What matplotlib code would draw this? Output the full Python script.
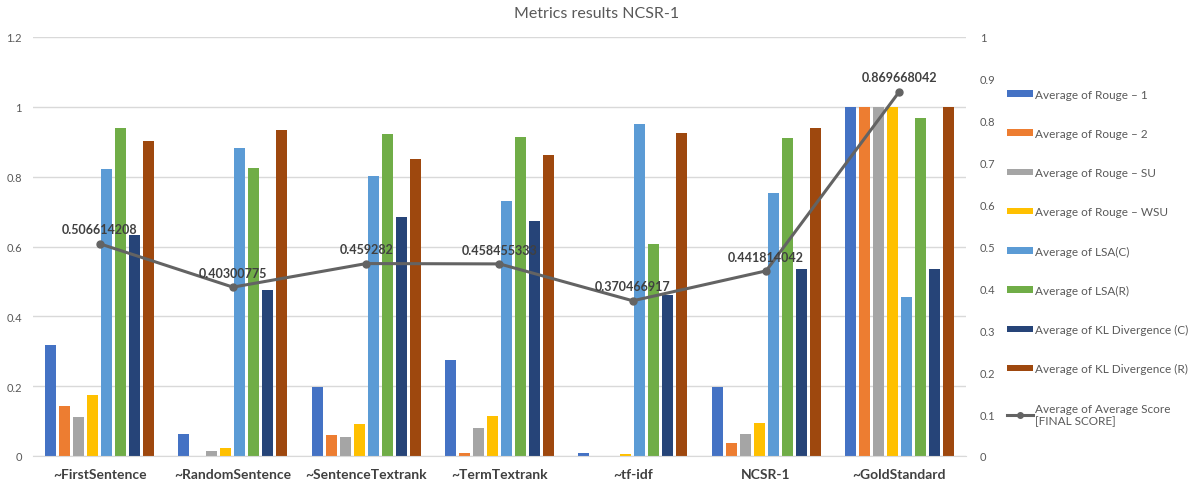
import matplotlib.pyplot as plt
import numpy as np
from matplotlib.lines import Line2D
from matplotlib.patches import Patch

plt.rcParams['font.family'] = ['Lato', 'DejaVu Sans']

# summarizer methods
categories = ['~FirstSentence', '~RandomSentence', '~SentenceTextrank', '~TermTextrank',
              '~tf-idf', 'NCSR-1', '~GoldStandard']

# per-metric averages (left axis)
rouge_1 = [0.317, 0.062, 0.199, 0.276, 0.009, 0.199, 1.0]
rouge_2 = [0.142, 0.0, 0.061, 0.008, 0.0, 0.038, 1.0]
rouge_su = [0.113, 0.014, 0.053, 0.081, 0.0, 0.062, 1.0]
rouge_wsu = [0.175, 0.022, 0.092, 0.115, 0.005, 0.094, 1.0]
lsa_c = [0.821, 0.883, 0.803, 0.730, 0.952, 0.752, 0.454]
lsa_r = [0.938, 0.824, 0.921, 0.913, 0.606, 0.910, 0.967]
kl_c = [0.634, 0.476, 0.685, 0.674, 0.462, 0.535, 0.535]
kl_r = [0.903, 0.934, 0.851, 0.861, 0.926, 0.938, 1.0]

# final score (right axis)
final_score = [0.506614208, 0.40300775, 0.459282, 0.458455333,
               0.370466917, 0.441814042, 0.869668042]

series = [rouge_1, rouge_2, rouge_su, rouge_wsu, lsa_c, lsa_r, kl_c, kl_r]
names = ['Average of Rouge \u2013 1', 'Average of Rouge \u2013 2', 'Average of Rouge \u2013 SU',
         'Average of Rouge \u2013 WSU', 'Average of LSA(C)', 'Average of LSA(R)',
         'Average of KL Divergence (C)', 'Average of KL Divergence (R)']
colors = ['#4472C4', '#ED7D31', '#A5A5A5', '#FFC000', '#5B9BD5', '#70AD47', '#264478', '#9E480E']
line_color = '#636363'
text_gray = '#595959'

fig = plt.figure(figsize=(11.94, 4.89), dpi=100)
ax = fig.add_axes([33 / 1194, 32 / 489, 933 / 1194, 419 / 489])

x = np.arange(len(categories))
pitch = 0.105
bw = 0.083
for i, (vals, c) in enumerate(zip(series, colors)):
    ax.bar(x + (i - 3.5) * pitch, vals, width=bw, color=c, zorder=2)

ax.set_xlim(-0.5, len(categories) - 0.5)
ax.set_ylim(0, 1.2)
ax.set_yticks(np.arange(0, 1.21, 0.2))
ax.set_yticklabels(['0', '0.2', '0.4', '0.6', '0.8', '1', '1.2'])
ax.set_xticks(x)
ax.set_xticklabels(categories, fontsize=10, fontweight='bold', color='#404040')
ax.tick_params(axis='y', length=0, labelsize=8, colors=text_gray, pad=8)
ax.tick_params(axis='x', length=0, pad=9)
ax.grid(axis='y', color='#D9D9D9', linewidth=1, zorder=0)
for s in ['top', 'right', 'left']:
    ax.spines[s].set_visible(False)
ax.spines['bottom'].set_color('#D9D9D9')

# secondary axis for the final score line
ax2 = ax.twinx()
ax2.set_ylim(0, 1)
ax2.set_yticks(np.arange(0, 1.01, 0.1))
ax2.set_yticklabels(['0', '0.1', '0.2', '0.3', '0.4', '0.5', '0.6', '0.7', '0.8', '0.9', '1'])
ax2.tick_params(axis='y', length=0, labelsize=8, colors=text_gray, pad=10)
for s in ax2.spines.values():
    s.set_visible(False)
ax2.plot(x, final_score, color=line_color, linewidth=2.2, marker='o', markersize=5, zorder=3)
for xi, v in zip(x, final_score):
    ax2.annotate(f'{v:.9g}', (xi, v), xytext=(0, 6), textcoords='offset points',
                 ha='center', va='bottom', fontsize=9, fontweight='bold', color='#404040')

fig.text(0.5, 1 - 14 / 489, 'Metrics results NCSR-1', ha='center', va='center',
         fontsize=11.5, color=text_gray)

handles = [Patch(facecolor=c, edgecolor='none') for c in colors]
handles.append(Line2D([0], [0], color=line_color, linewidth=2.2, marker='o', markersize=4))
labels = names + ['Average of Average Score\n[FINAL SCORE]']
leg = fig.legend(handles, labels, loc='upper left', bbox_to_anchor=(996 / 1194, 1 - 79 / 489),
                 frameon=False, fontsize=8.5, labelspacing=2.39, handlelength=2.2,
                 handleheight=0.45, handletextpad=0.2, labelcolor=text_gray)

fig.savefig('out.png', dpi=100)
